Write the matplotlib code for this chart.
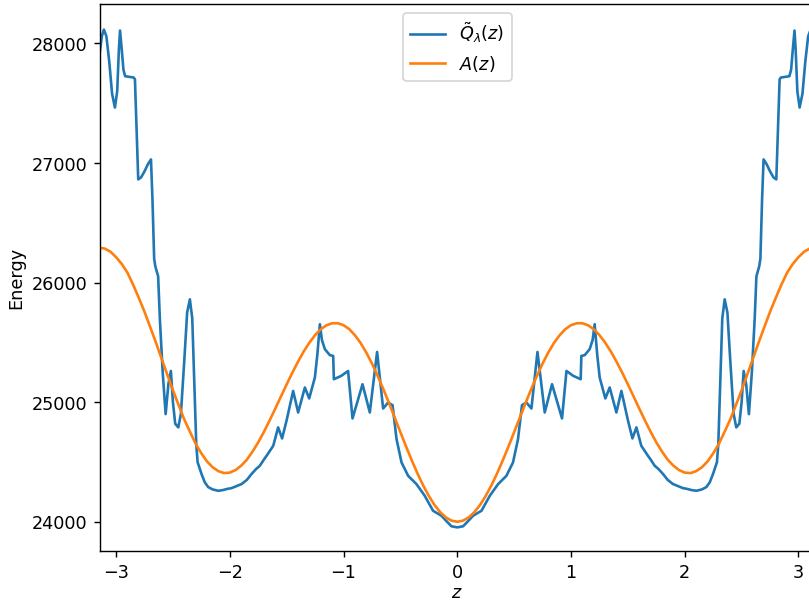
import numpy as np
import matplotlib.pyplot as plt

# Blue curve, read from the left half (z from -pi to 0); the curve is symmetric
z_q_half = [-3.1416, -3.125, -3.107, -3.085, -3.06, -3.035, -3.01, -2.99, -2.975, -2.965,
            -2.95, -2.935, -2.92, -2.88, -2.845, -2.834, -2.82, -2.805, -2.78, -2.75,
            -2.72, -2.693, -2.68, -2.665, -2.655, -2.63, -2.615, -2.59, -2.564, -2.54,
            -2.518, -2.5, -2.48, -2.453, -2.43, -2.40, -2.375, -2.351, -2.33, -2.31,
            -2.295, -2.283, -2.248, -2.22, -2.19, -2.15, -2.102, -2.06, -2.02, -1.985,
            -1.94, -1.897, -1.85, -1.81, -1.77, -1.736, -1.70, -1.677, -1.618, -1.6,
            -1.575, -1.54, -1.50, -1.443, -1.399, -1.34, -1.302, -1.252, -1.23, -1.208,
            -1.19, -1.164, -1.12, -1.091, -1.085, -1.02, -0.96, -0.921, -0.833, -0.769,
            -0.705, -0.652, -0.608, -0.569, -0.534, -0.49, -0.432, -0.359, -0.286, -0.213,
            -0.139, -0.09, -0.051, 0.0]
q_half = [27935, 28060, 28116, 28060, 27850, 27580, 27464, 27600, 27950, 28108,
          27950, 27780, 27726, 27720, 27715, 27700, 27300, 26863, 26880, 26930,
          26990, 27030, 26700, 26200, 26137, 26053, 25700, 25250, 24900, 25150,
          25261, 25000, 24820, 24789, 24900, 25350, 25750, 25860, 25700, 25100,
          24650, 24498, 24398, 24330, 24290, 24270, 24259, 24265, 24275, 24281,
          24298, 24315, 24350, 24398, 24440, 24468, 24520, 24551, 24635, 24700,
          24789, 24697, 24850, 25094, 24914, 25123, 25031, 25206, 25400, 25652,
          25520, 25443, 25393, 25387, 25192, 25220, 25261, 24864, 25150, 24914,
          25420, 24947, 24997, 24975, 24691, 24496, 24384, 24315, 24217, 24092,
          24050, 24000, 23962, 23953]

# Orange curve, read at z = 0 .. pi (symmetric)
z_a_half = [0.0, 0.05, 0.1, 0.15, 0.2, 0.25, 0.3, 0.35, 0.4, 0.45, 0.5, 0.55, 0.6, 0.65,
            0.7, 0.75, 0.8, 0.85, 0.9, 0.95, 1.0, 1.05, 1.1, 1.15, 1.2, 1.25, 1.3, 1.35,
            1.4, 1.45, 1.5, 1.55, 1.6, 1.65, 1.7, 1.75, 1.8, 1.85, 1.9, 1.95, 2.0, 2.05,
            2.1, 2.15, 2.2, 2.25, 2.3, 2.35, 2.4, 2.45, 2.5, 2.55, 2.6, 2.65, 2.7, 2.75,
            2.8, 2.85, 2.9, 2.95, 3.0, 3.05, 3.1, 3.1416]
a_half = [24000, 24009, 24036, 24080, 24140, 24216, 24304, 24404, 24513, 24629, 24749,
          24871, 24992, 25109, 25220, 25323, 25415, 25495, 25560, 25611, 25644, 25660,
          25660, 25643, 25610, 25561, 25498, 25424, 25339, 25247, 25149, 25048, 24946,
          24847, 24752, 24664, 24587, 24519, 24469, 24432, 24411, 24407, 24423, 24455,
          24504, 24572, 24652, 24752, 24855, 24976, 25100, 25232, 25365, 25500, 25629,
          25756, 25872, 25983, 26083, 26156, 26213, 26259, 26285, 26290]

# mirror halves into full curves
z_q = np.concatenate([z_q_half, -np.array(z_q_half[::-1][1:])])
q = np.concatenate([q_half, q_half[::-1][1:]])
z_a = np.concatenate([-np.array(z_a_half[::-1]), z_a_half[1:]])
a = np.concatenate([a_half[::-1], a_half[1:]])

fig = plt.figure(figsize=(6.4, 4.763), dpi=126.5)
ax = fig.add_axes([100 / 810, 51 / 603, 715 / 810, 547 / 603])
ax.plot(z_q, q, label=r'$\tilde{Q}_\lambda(z)$')
ax.plot(z_a, a, label=r'$A(z)$')
ax.set_xlim(-np.pi, np.pi)
ax.set_ylim(23755, 28326)
ax.set_xlabel(r'$z$', labelpad=1)
ax.set_ylabel('Energy')
ax.legend(loc='upper center')
fig.savefig('out.png', dpi=126.5)
